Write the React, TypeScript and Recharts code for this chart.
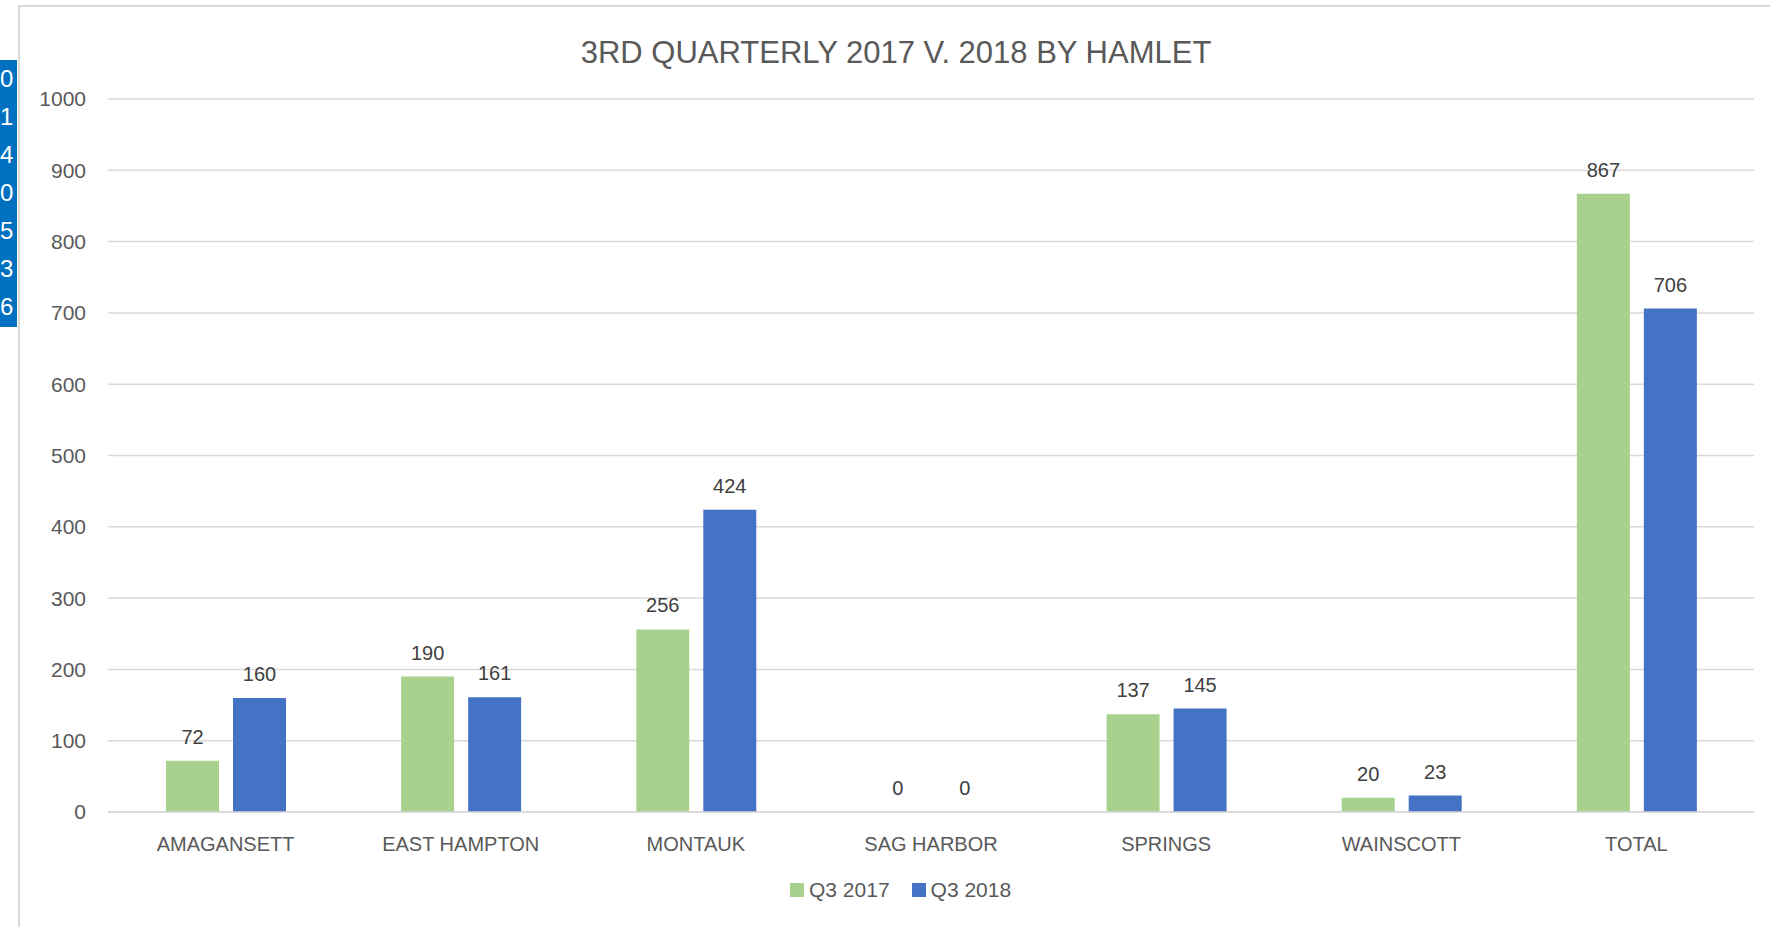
import React from 'react';
import { BarChart, Bar, XAxis, YAxis, CartesianGrid, Legend, LabelList } from 'recharts';

const categories = ['AMAGANSETT', 'EAST HAMPTON', 'MONTAUK', 'SAG HARBOR', 'SPRINGS', 'WAINSCOTT', 'TOTAL'];
const q3_2017 = [72, 190, 256, 0, 137, 20, 867];
const q3_2018 = [160, 161, 424, 0, 145, 23, 706];
const yTicks = [0, 100, 200, 300, 400, 500, 600, 700, 800, 900, 1000];
const seriesNames = ['Q3 2017', 'Q3 2018'];
const seriesColors = ['#a9d18e', '#4472c4'];
const sideDigits = ['0', '1', '4', '0', '5', '3', '6'];
const title = '3RD QUARTERLY 2017 V. 2018 BY HAMLET';

const data = categories.map((c, i) => ({ name: c, a: q3_2017[i], b: q3_2018[i] }));

const FONT = "'Liberation Sans', Arial, sans-serif";

const zeroMin = (value: any) => (value === 0 ? 0.01 : 0);

const LegendContent = () => (
  <div style={{ display: 'flex', alignItems: 'center', height: 30, fontFamily: FONT, fontSize: 21, color: '#595959', whiteSpace: 'nowrap' }}>
    {seriesNames.map((n, i) => (
      <div key={n} style={{ display: 'flex', alignItems: 'center', marginRight: 22 }}>
        <div style={{ width: 14, height: 14, background: seriesColors[i], marginRight: 5 }} />
        <span>{n}</span>
      </div>
    ))}
  </div>
);

export default function App() {
  return (
    <div style={{ position: 'absolute', left: 0, top: 0, width: 1770, height: 927, overflow: 'hidden', background: '#fff' }}>
      <div style={{ position: 'absolute', left: 18, top: 5, width: 1800, height: 1000, borderLeft: '2px solid #d9d9d9', borderTop: '2px solid #d9d9d9' }} />
      <div style={{ position: 'absolute', left: 0, top: 0 }}>
        <BarChart width={1770} height={927} data={data} margin={{ top: 99, right: 16, left: 0, bottom: 22 }} barGap={14} barSize={53}>
          <CartesianGrid vertical={false} stroke="#d9d9d9" strokeWidth={1.5} />
          <XAxis dataKey="name" height={63} tickSize={0} tickMargin={25} axisLine={{ stroke: '#d9d9d9', strokeWidth: 1.5 }} tickLine={false}
            tick={{ fill: '#595959', fontSize: 20, fontFamily: FONT }} interval={0} />
          <YAxis width={108} domain={[0, 1000]} ticks={yTicks} tickSize={0} tickMargin={22} axisLine={false} tickLine={false}
            tick={{ fill: '#595959', fontSize: 21, fontFamily: FONT }} />
          <Legend verticalAlign="bottom" height={30} content={<LegendContent />} wrapperStyle={{ left: 790, top: 875, width: 300, height: 30 }} />
          <Bar dataKey="a" name={seriesNames[0]} fill={seriesColors[0]} minPointSize={zeroMin} isAnimationActive={false}>
            <LabelList dataKey="a" position="top" offset={17} fill="#404040" fontSize={20} fontFamily={FONT} />
          </Bar>
          <Bar dataKey="b" name={seriesNames[1]} fill={seriesColors[1]} minPointSize={zeroMin} isAnimationActive={false}>
            <LabelList dataKey="b" position="top" offset={17} fill="#404040" fontSize={20} fontFamily={FONT} />
          </Bar>
        </BarChart>
      </div>
      <div style={{ position: 'absolute', left: 0, top: 37, width: 1792, textAlign: 'center', fontFamily: FONT, fontSize: 31, lineHeight: '31px', color: '#595959', pointerEvents: 'none' }}>
        {title}
      </div>
      <div style={{ position: 'absolute', left: 0, top: 60, width: 17, height: 267, background: '#0070c0', overflow: 'hidden' }}>
        {sideDigits.map((d, i) => (
          <div key={i} style={{ height: 38, lineHeight: '38px', color: '#fff', fontFamily: FONT, fontSize: 24 }}>{d}</div>
        ))}
      </div>
    </div>
  );
}
